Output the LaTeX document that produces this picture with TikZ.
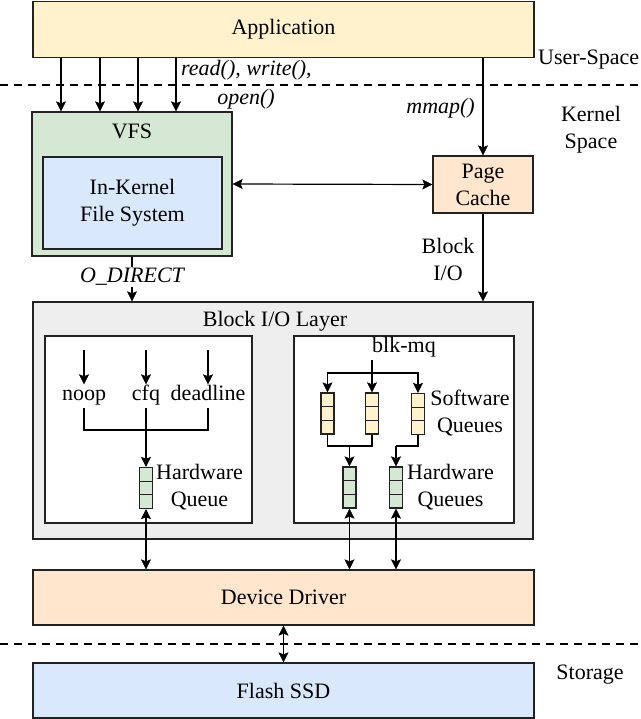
\documentclass[tikz,border=0pt]{standalone}
\usepackage{fontspec}
\setmainfont{Liberation Serif}
\usetikzlibrary{arrows.meta,calc}
\definecolor{yelfill}{HTML}{FFF2CC}
\definecolor{grnfill}{HTML}{D5E8D4}
\definecolor{blufill}{HTML}{DAE8FC}
\definecolor{orgfill}{HTML}{FFE6CC}
\definecolor{gryfill}{HTML}{EEEEEE}
\definecolor{edge}{HTML}{222222}
\newcommand\dlbl{\fontsize{22}{27}\selectfont}
\begin{document}
\begin{tikzpicture}[x=1pt,y=-1pt,
  box/.style={draw=edge, line width=1.3pt, inner sep=0pt, font=\dlbl, align=center},
  txt/.style={font=\dlbl, inner sep=1pt, align=center},
  itl/.style={font=\dlbl\itshape, inner sep=1pt, align=center},
  sel/.style={font=\dlbl, inner sep=2pt, text height=14pt, text depth=5pt},
  tip/.tip={Stealth[length=10pt,width=10pt,inset=2pt,line width=0.5pt]},
  arr/.style={-tip, line width=1.2pt},
  darr/.style={tip-tip, line width=1.2pt},
  dashline/.style={line width=2.4pt, dash pattern=on 8pt off 6pt},
  queue/.style={draw=edge, line width=1.3pt, minimum width=13pt, minimum height=41pt, inner sep=0pt,
    path picture={
      \draw[edge, line width=1.3pt] ($(path picture bounding box.north west)!1/3!(path picture bounding box.south west)$) -- ($(path picture bounding box.north east)!1/3!(path picture bounding box.south east)$);
      \draw[edge, line width=1.3pt] ($(path picture bounding box.north west)!2/3!(path picture bounding box.south west)$) -- ($(path picture bounding box.north east)!2/3!(path picture bounding box.south east)$);
    }},
]
\useasboundingbox (0,0) rectangle (640,719);

% dashed separators
\draw[dashline] (0,85) -- (640,85);
\draw[dashline] (0,644) -- (640,644);

% main boxes
\node[box, fill=yelfill, minimum width=501pt, minimum height=56pt] (app) at (283.5,29.5) {Application};
\node[box, fill=grnfill, minimum width=200pt, minimum height=144pt] (vfs) at (132,184) {};
\node[txt] (vfslbl) at (132,131) {VFS};
\node[box, fill=blufill, minimum width=179pt, minimum height=92pt] (ikfs) at (132.5,203) {In-Kernel\\File System};
\node[box, fill=orgfill, minimum width=100pt, minimum height=57pt] (pc) at (483,184.5) {Page\\Cache};
\node[box, fill=gryfill, minimum width=500pt, minimum height=237pt] (blk) at (283,420.5) {};
\node[txt] (blklbl) at (275,321) {Block I/O Layer};
\node[box, fill=white, minimum width=207pt, minimum height=187pt] (lbox) at (148.5,429.5) {};
\node[box, fill=white, minimum width=220pt, minimum height=187pt] (rbox) at (404,429.5) {};
\node[box, fill=orgfill, minimum width=501pt, minimum height=55pt] (dd) at (283.5,597.5) {Device Driver};
\node[box, fill=blufill, minimum width=501pt, minimum height=55pt] (ssd) at (283.5,690.5) {Flash SSD};

% side labels
\node[txt, anchor=west] (us) at (537,60) {User-Space};
\node[txt] (ks) at (591,130) {Kernel\\Space};
\node[txt] (st) at (590,675) {Storage};

% application to VFS
\foreach \x/\n in {61/a,100/b,138/c,176/d}{
  \coordinate (t\n) at (\x,0);
  \draw[arr] (app.south -| t\n) -- (vfs.north -| t\n);
}
\node[itl, anchor=west] (rw) at (180,70) {read(), write(),};
\node[itl] (op) at (246,99) {open()};

% mmap
\draw[arr] (app.south -| pc.north) -- (pc.north);
\node[itl, anchor=east] (mm) at (476,108) {mmap()};

% VFS <-> page cache
\draw[darr] (vfs.east) -- (pc.west);

% O_DIRECT
\draw[arr] (vfs.south) -- (blk.north -| vfs.south);
\node[itl, fill=white] (od) at (132,277) {O\_DIRECT};

% page cache -> block layer
\draw[arr] (pc.south) -- (blk.north -| pc.south);
\node[txt] (bio) at (448,259) {Block\\I/O};

% left scheduler box
\node[sel] (noop) at (84,396) {noop};
\node[sel] (cfq) at (146,396) {cfq};
\node[sel] (dl) at (208,396) {deadline};
\foreach \n in {noop,cfq,dl}{
  \coordinate (s\n) at ([yshift=34pt]\n.north);
  \draw[arr] (s\n) -- (\n.north);
}
\node[queue, fill=grnfill] (hq0) at (146,488) {};
\coordinate (jl) at (146,430);
\draw[line width=1.2pt] (noop.south) |- (jl) -| (dl.south);
\draw[arr] (cfq.south) -- (hq0.north);
\node[txt] (hq0lbl) at (199.5,487) {Hardware\\Queue};

% right blk-mq box
\node[txt] (bmq) at (404,347) {blk-mq};
\node[queue, fill=yelfill] (sq1) at (327.5,413.5) {};
\node[queue, fill=yelfill] (sq2) at (372,413.5) {};
\node[queue, fill=yelfill] (sq3) at (418,414) {};
\coordinate (bm) at (372,360);
\coordinate (bj) at (372,373);
\draw[arr] (bm) -- (sq2.north);
\draw[arr] (bj) -| (sq1.north);
\draw[arr] (bj) -| (sq3.north);
\node[txt] (swlbl) at (470,413) {Software\\Queues};
\node[queue, fill=grnfill] (hq1) at (349.5,487.5) {};
\node[queue, fill=grnfill] (hq2) at (396,487.5) {};
\coordinate (j1) at (349.5,446);
\coordinate (j2) at (396,446);
\draw[line width=1.2pt] (sq1.south) |- (j1) -| (sq2.south);
\draw[arr] (j1) -- (hq1.north);
\draw[line width=1.2pt] (sq3.south) |- (j2);
\draw[arr] (j2) -- (hq2.north);
\node[txt] (hwlbl) at (450.5,487) {Hardware\\Queues};

% queues <-> device driver
\draw[darr] (hq0.south) -- (hq0.south |- dd.north);
\draw[darr] (hq1.south) -- (hq1.south |- dd.north);
\draw[darr] (hq2.south) -- (hq2.south |- dd.north);

% device driver <-> SSD
\draw[darr, line width=1.8pt] (dd.south) -- (ssd.north);
\end{tikzpicture}
\end{document}
